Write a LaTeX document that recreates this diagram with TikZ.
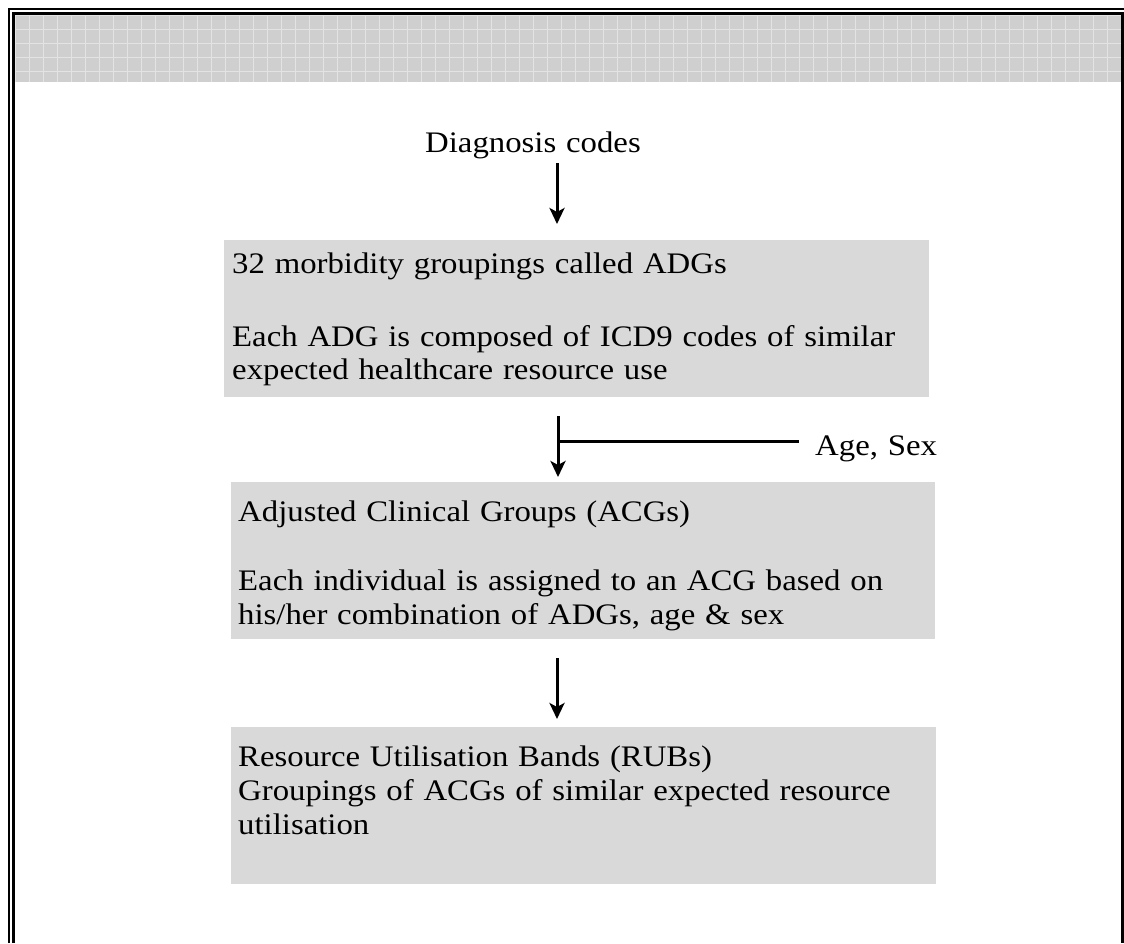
\documentclass[tikz,border=0pt]{standalone}
\usepackage{fontspec}
\setmainfont[FakeStretch=1.1,WordSpace=1.2]{Liberation Serif}
\usetikzlibrary{arrows.meta}
\begin{document}
\begin{tikzpicture}[x=1pt,y=-1pt,
  box/.style={draw=none, fill=gray!30, inner sep=0pt, outer sep=0pt, anchor=north west},
  txt/.style={font=\fontsize{29.8}{34}\selectfont, inner sep=0pt, anchor=base west},
  arr/.style={line width=3pt, -{Stealth[length=16pt,width=15pt,inset=4pt]}},
  rule/.style={line width=3pt}]
\useasboundingbox (0,0) rectangle (1124,943);
\fill[white] (0,0) rectangle (1124,943);
% header band
\fill[gray!38] (15,15) rectangle (1121,82);
\draw[gray!22, line width=0.8pt, step=14pt, shift={(15pt,-15pt)}] (0,0) grid (1106,67);
% frame
\draw[line width=2pt] (9,943) -- (9,9) -- (1124,9);
\draw[line width=3.2pt] (13.5,943) -- (13.5,13.5) -- (1122.5,13.5) -- (1122.5,943);
% boxes
\node[box, minimum width=705pt, minimum height=157pt] (b1) at (224,240) {};
\node[box, minimum width=704pt, minimum height=157pt] (b2) at (231,482) {};
\node[box, minimum width=705pt, minimum height=157pt] (b3) at (231,727) {};
% texts
\node[txt] (diag) at (425,152) {Diagnosis codes};
\node[txt] (b1l1) at (232,273) {32 morbidity groupings called ADGs};
\node[txt] (b1l2) at (232,346) {Each ADG is composed of ICD9 codes of similar};
\node[txt] (b1l3) at (232,379) {expected healthcare resource use};
\node[txt] (age) at (815,455) {Age, Sex};
\node[txt] (b2l1) at (238,521) {Adjusted Clinical Groups (ACGs)};
\node[txt] (b2l2) at (238,590) {Each individual is assigned to an ACG based on};
\node[txt] (b2l3) at (238,624) {his/her combination of ADGs, age \& sex};
\node[txt] (b3l1) at (238,766) {Resource Utilisation Bands (RUBs)};
\node[txt] (b3l2) at (238,800) {Groupings of ACGs of similar expected resource};
\node[txt] (b3l3) at (238,834) {utilisation};
% connectors
\coordinate (a1s) at (557,163);
\coordinate (a1e) at (557,224);
\coordinate (a2s) at (558,416);
\coordinate (a2e) at (558,477);
\coordinate (a2j) at (558,441);
\coordinate (agee) at (799,441);
\coordinate (a3s) at (557,658);
\coordinate (a3e) at (557,719);
\draw[arr] (a1s) -- (a1e);
\draw[arr] (a2s) -- (a2e);
\draw[rule] (agee) -- (a2j);
\draw[arr] (a3s) -- (a3e);
\end{tikzpicture}
\end{document}
